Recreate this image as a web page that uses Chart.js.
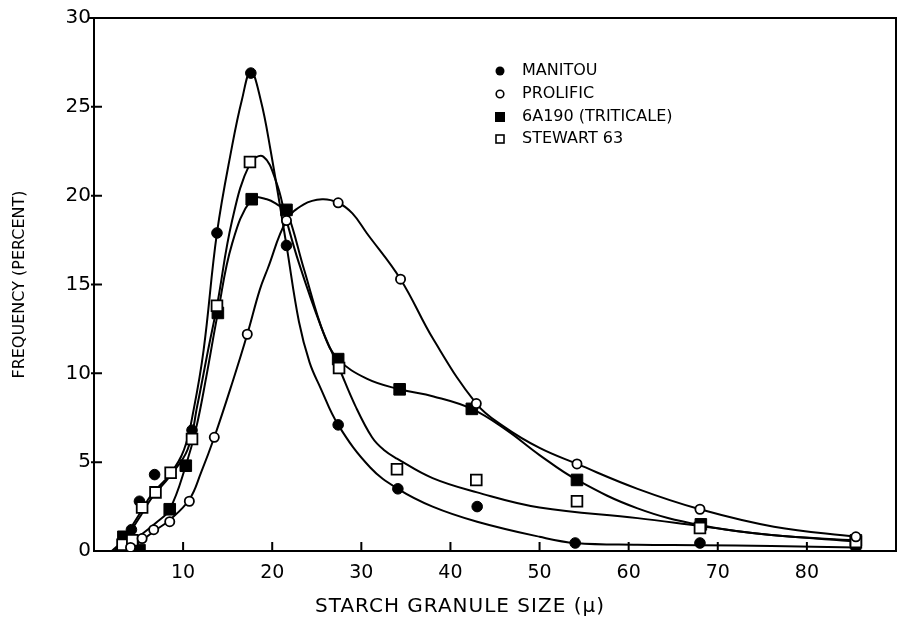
<!DOCTYPE html>
<html>
<head>
<meta charset="utf-8">
<script src="https://cdn.jsdelivr.net/npm/chart.js@4.4.0/dist/chart.umd.min.js"></script>
<style>
  html, body { margin: 0; padding: 0; background: #fff; }
  #wrap { width: 899px; height: 628px; }
</style>
</head>
<body>
<div id="wrap"><canvas id="starch" width="899" height="628"></canvas></div>
<script>
// measured points: granule size (microns) -> frequency (percent)
const manitouSize = [4.2, 5.1, 6.8, 11.0, 13.8, 17.6, 21.6, 27.4, 34.1, 43.0, 54.0, 68.0, 85.5];
const manitouFreq = [1.2, 2.8, 4.3, 6.8, 17.9, 26.9, 17.2, 7.1, 3.5, 2.5, 0.45, 0.45, 0.2];

const prolificSize = [4.1, 5.4, 6.7, 8.5, 10.7, 13.5, 17.2, 21.6, 27.4, 34.4, 42.9, 54.2, 68.0, 85.5];
const prolificFreq = [0.2, 0.7, 1.2, 1.65, 2.8, 6.4, 12.2, 18.6, 19.6, 15.3, 8.3, 4.9, 2.35, 0.8];

const triticaleSize = [3.3, 5.1, 8.5, 10.3, 13.9, 17.7, 21.6, 27.4, 34.3, 42.4, 54.2, 68.1, 85.5];
const triticaleFreq = [0.8, 0.05, 2.35, 4.8, 13.4, 19.8, 19.2, 10.8, 9.1, 8.0, 4.0, 1.5, 0.6];

const stewartSize = [3.2, 4.3, 5.4, 6.9, 8.6, 11.0, 13.8, 17.5, 27.5, 34.0, 42.9, 54.2, 68.0, 85.5];
const stewartFreq = [0.35, 0.6, 2.45, 3.3, 4.4, 6.3, 13.8, 21.9, 10.3, 4.6, 4.0, 2.8, 1.3, 0.5];

// hand drawn smooth curves
const manitouCurveSize = [2.3, 3.5, 5, 6.5, 8.5, 10.1, 11.2, 12.3, 13.8, 15.5, 16.6, 17.6, 18.7, 19.8, 21.6, 23.0, 24.2, 25.4, 27.4, 31, 34.1, 38, 43, 50, 54, 61, 68, 76, 85.5];
const manitouCurveFreq = [0, 0.8, 2.0, 3.2, 4.3, 5.7, 8.0, 11.3, 17.9, 22.8, 25.4, 27, 25.4, 22.6, 17.2, 12.9, 10.6, 9.2, 7.1, 4.7, 3.5, 2.5, 1.65, 0.8, 0.45, 0.35, 0.33, 0.28, 0.2];

const prolificCurveSize = [3.5, 5.4, 6.7, 8.5, 10.7, 12, 13.5, 15.6, 17.2, 18.6, 19.5, 21.6, 23.5, 25.6, 27.4, 29, 30.6, 34.4, 38.1, 42.9, 46, 50, 54.2, 61, 68, 76.3, 85.5];
const prolificCurveFreq = [0, 0.6, 1.1, 1.75, 2.9, 4.4, 6.4, 9.6, 12.2, 14.7, 15.9, 18.6, 19.5, 19.8, 19.6, 19.0, 17.9, 15.3, 11.9, 8.3, 7.0, 5.8, 4.9, 3.5, 2.35, 1.37, 0.8];

const triticaleCurveSize = [2.5, 4, 5.5, 7, 8.5, 10.3, 11.5, 12.6, 13.9, 15.5, 17.7, 19.4, 20.9, 21.6, 23.6, 25.8, 27.4, 30.6, 34.3, 38.1, 42.4, 46.3, 50, 54.2, 61, 68.1, 76, 85.5];
const triticaleCurveFreq = [0, 0.5, 1.0, 1.6, 2.35, 4.8, 7.0, 9.8, 13.4, 17.3, 19.8, 19.8, 19.4, 19.2, 15.8, 12.2, 10.8, 9.7, 9.1, 8.7, 8.0, 6.8, 5.4, 4.0, 2.4, 1.45, 0.9, 0.6];

const stewartCurveSize = [2, 3.5, 5, 6.5, 8.5, 10.5, 11.6, 12.8, 13.8, 15.5, 17.5, 19, 20.5, 21.5, 23, 25.5, 27.5, 29.3, 31.2, 32.5, 34, 38, 43, 50, 61, 68, 76, 85.5];
const stewartCurveFreq = [0, 0.7, 1.8, 3.0, 4.2, 5.7, 8.2, 11.3, 13.8, 18.6, 21.8, 22.2, 20.7, 18.8, 16.2, 12.6, 10.3, 8.2, 6.4, 5.7, 5.2, 4.1, 3.3, 2.45, 1.85, 1.4, 0.9, 0.55];

const seriesNames = ['MANITOU', 'PROLIFIC', '6A190 (TRITICALE)', 'STEWART 63'];
const xTitle = 'STARCH GRANULE SIZE (\u03bc)';
const yTitle = 'FREQUENCY (PERCENT)';
const xTickValues = [10, 20, 30, 40, 50, 60, 70, 80];
const yTickValues = [0, 5, 10, 15, 20, 25, 30];

const pts = (xs, ys) => xs.map((x, i) => ({ x: x, y: ys[i] }));

function markerSet(label, xs, ys, style, filled, r) {
  return {
    label: label,
    data: pts(xs, ys),
    showLine: false,
    pointStyle: style,
    pointRadius: r,
    pointHoverRadius: r,
    pointBackgroundColor: filled ? '#000' : '#fff',
    pointBorderColor: '#000',
    pointBorderWidth: filled ? 1 : 1.8
  };
}

function curveSet(label, xs, ys) {
  return {
    type: 'line',
    label: label,
    data: pts(xs, ys),
    borderColor: '#000',
    borderWidth: 2,
    pointRadius: 0,
    fill: false,
    tension: 0.4
  };
}

// frame, inward tick marks, x title and the key inside the plot
const frameAndKey = {
  id: 'frameAndKey',
  afterDraw(chart) {
    const ctx = chart.ctx;
    const area = chart.chartArea;
    const xs = chart.scales.x, ys = chart.scales.y;
    ctx.save();
    ctx.strokeStyle = '#000';
    ctx.lineWidth = 2;
    ctx.beginPath();
    ctx.moveTo(area.left - 6, area.top);
    ctx.lineTo(area.right, area.top);
    ctx.lineTo(area.right, area.bottom);
    ctx.stroke();

    ctx.beginPath();
    yTickValues.forEach(v => {
      if (v === 0 || v === 30) return;
      const py = ys.getPixelForValue(v);
      ctx.moveTo(area.left - 3, py);
      ctx.lineTo(area.left + 8, py);
    });
    xTickValues.forEach(v => {
      const px = xs.getPixelForValue(v);
      ctx.moveTo(px, area.bottom);
      ctx.lineTo(px, area.bottom - 9);
    });
    ctx.stroke();

    ctx.fillStyle = '#000';
    ctx.font = '20px "DejaVu Sans", sans-serif';
    ctx.textAlign = 'center';
    ctx.textBaseline = 'middle';
    ctx.letterSpacing = '1px';
    ctx.fillText(xTitle, 460, 607);
    ctx.letterSpacing = '0px';

    // key
    const rows = [71, 94, 117, 139];
    const mx = 500, tx = 522;
    ctx.lineWidth = 1.6;
    ctx.beginPath(); ctx.arc(mx, rows[0], 4.5, 0, Math.PI * 2); ctx.fill();
    ctx.beginPath(); ctx.arc(mx, rows[1], 3.8, 0, Math.PI * 2); ctx.stroke();
    ctx.fillRect(mx - 5, rows[2] - 5, 10, 10);
    ctx.strokeRect(mx - 4, rows[3] - 4, 8, 8);

    ctx.font = '16px "DejaVu Sans", sans-serif';
    ctx.textAlign = 'left';
    seriesNames.forEach((n, i) => ctx.fillText(n, tx, rows[i]));
    ctx.restore();
  }
};

new Chart(document.getElementById('starch'), {
  type: 'scatter',
  data: {
    datasets: [
      markerSet(seriesNames[1], prolificSize, prolificFreq, 'circle', false, 4.6),
      markerSet(seriesNames[3], stewartSize, stewartFreq, 'rect', false, 7.6),
      markerSet(seriesNames[0], manitouSize, manitouFreq, 'circle', true, 5.3),
      markerSet(seriesNames[2], triticaleSize, triticaleFreq, 'rect', true, 8.2),
      curveSet('manitou curve', manitouCurveSize, manitouCurveFreq),
      curveSet('prolific curve', prolificCurveSize, prolificCurveFreq),
      curveSet('triticale curve', triticaleCurveSize, triticaleCurveFreq),
      curveSet('stewart curve', stewartCurveSize, stewartCurveFreq)
    ]
  },
  options: {
    responsive: false,
    animation: false,
    devicePixelRatio: 1,
    layout: { autoPadding: false, padding: { top: 18, right: 3, left: 0, bottom: 0 } },
    plugins: {
      legend: { display: false },
      tooltip: { enabled: false }
    },
    scales: {
      x: {
        type: 'linear',
        min: 0,
        max: 90,
        afterFit: s => { s.height = 77; },
        afterBuildTicks: s => { s.ticks = xTickValues.map(v => ({ value: v })); },
        grid: { display: false, drawTicks: false },
        border: { display: true, color: '#000', width: 2 },
        ticks: {
          color: '#000',
          padding: 11,
          font: { family: '"DejaVu Sans", sans-serif', size: 19 }
        },
        title: { display: false }
      },
      y: {
        min: 0,
        max: 30,
        afterFit: s => { s.width = 94; },
        afterBuildTicks: s => { s.ticks = yTickValues.map(v => ({ value: v })); },
        grid: { display: false, drawTicks: false },
        border: { display: true, color: '#000', width: 2 },
        ticks: {
          color: '#000',
          padding: 3,
          font: { family: '"DejaVu Sans", sans-serif', size: 20 }
        },
        title: {
          display: true,
          text: yTitle,
          color: '#000',
          font: { family: '"DejaVu Sans", sans-serif', size: 16 },
          padding: { top: 10 }
        }
      }
    }
  },
  plugins: [frameAndKey]
});
</script>
</body>
</html>
